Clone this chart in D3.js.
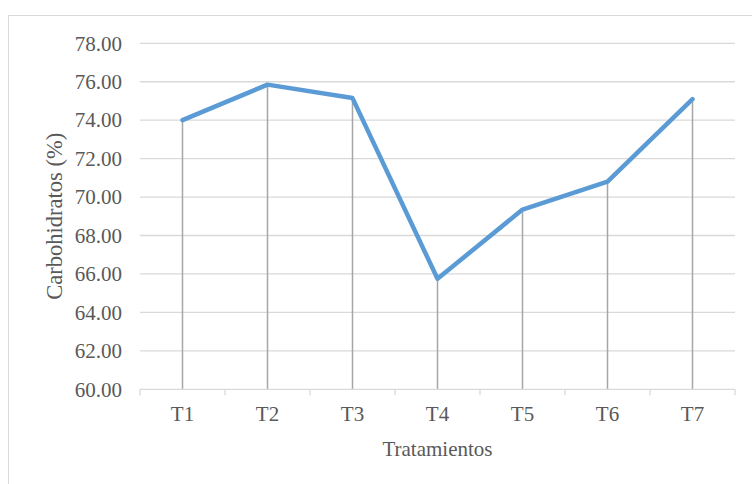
<!DOCTYPE html>
<html>
<head>
<meta charset="utf-8">
<script src="https://cdn.jsdelivr.net/npm/d3@7"></script>
<style>
  html, body { margin: 0; padding: 0; background: #ffffff; }
  svg { display: block; }
  svg text { font-family: "Liberation Serif", "Times New Roman", serif; fill: #595959; }
</style>
</head>
<body>
<svg id="chart" width="752" height="484"></svg>
<script>
// Carbohydrate content per treatment
const categories = ["T1", "T2", "T3", "T4", "T5", "T6", "T7"];
const carbValues = [74.00, 75.85, 75.15, 65.75, 69.35, 70.80, 75.10];
const yTicks = [60, 62, 64, 66, 68, 70, 72, 74, 76, 78];

const FONT = "'Liberation Serif', 'Times New Roman', serif";
const FS = "21px";

const svg = d3.select("#chart");
const W = 752, H = 484;

// outer chart frame
svg.append("rect")
  .attr("x", 8.5).attr("y", 15.5)
  .attr("width", W + 10).attr("height", H + 10)
  .attr("fill", "#ffffff")
  .attr("stroke", "#d9d9d9").attr("stroke-width", 1);

const plot = { left: 140, right: 735, top: 43.3, bottom: 389.3 };

const x = d3.scaleBand().domain(categories).range([plot.left, plot.right]).padding(0);
const y = d3.scaleLinear().domain([60, 78]).range([plot.bottom, plot.top]);

// horizontal gridlines
svg.append("g").selectAll("line")
  .data(yTicks.filter(v => v > 60))
  .join("line")
  .attr("x1", plot.left).attr("x2", plot.right)
  .attr("y1", d => y(d)).attr("y2", d => y(d))
  .attr("stroke", "#d9d9d9").attr("stroke-width", 1.3);

// y axis labels
const yAxis = d3.axisLeft(y).tickValues(yTicks).tickFormat(d3.format(".2f")).tickSize(0).tickPadding(18);
const gy = svg.append("g").attr("transform", `translate(${plot.left},0)`).call(yAxis);
gy.attr("font-family", FONT).attr("font-size", FS);
gy.select(".domain").remove();
gy.selectAll("text")
  .style("font-family", FONT)
  .style("font-size", FS).attr("fill", "#595959");

// drop lines from each point to the category axis
svg.append("g").selectAll("line")
  .data(carbValues)
  .join("line")
  .attr("x1", (d, i) => x(categories[i]) + x.bandwidth() / 2)
  .attr("x2", (d, i) => x(categories[i]) + x.bandwidth() / 2)
  .attr("y1", d => y(d)).attr("y2", plot.bottom)
  .attr("stroke", "#a6a6a6").attr("stroke-width", 1.5);

// x axis with tick marks between categories
const gx = svg.append("g").attr("transform", `translate(0,${plot.bottom})`);
gx.append("line")
  .attr("x1", plot.left).attr("x2", plot.right)
  .attr("y1", 0).attr("y2", 0)
  .attr("stroke", "#d9d9d9").attr("stroke-width", 1.3);
const boundaries = categories.map(c => x(c)).concat([plot.right]);
gx.selectAll("line.tick")
  .data(boundaries)
  .join("line").attr("class", "tick")
  .attr("x1", d => d).attr("x2", d => d)
  .attr("y1", 0).attr("y2", 6)
  .attr("stroke", "#d9d9d9").attr("stroke-width", 1.3);
gx.selectAll("text")
  .data(categories)
  .join("text")
  .attr("x", d => x(d) + x.bandwidth() / 2)
  .attr("y", 31.5)
  .attr("text-anchor", "middle")
  .style("font-family", FONT)
  .style("font-size", FS)
  .text(d => d);

// data line
const line = d3.line()
  .x((d, i) => x(categories[i]) + x.bandwidth() / 2)
  .y(d => y(d));
svg.append("path")
  .datum(carbValues)
  .attr("d", line)
  .attr("fill", "none")
  .attr("stroke", "#5b9bd5")
  .attr("stroke-width", 4.5)
  .attr("stroke-linejoin", "round")
  .attr("stroke-linecap", "round");

// axis titles
svg.append("text")
  .attr("x", (plot.left + plot.right) / 2)
  .attr("y", 456)
  .attr("text-anchor", "middle")
  .style("font-family", FONT)
  .style("font-size", FS)
  .text("Tratamientos");

svg.append("text")
  .attr("transform", `translate(62,${(plot.top + plot.bottom) / 2}) rotate(-90)`)
  .attr("text-anchor", "middle")
  .style("font-family", FONT)
  .style("font-size", "22.5px")
  .text("Carbohidratos (%)");
</script>
</body>
</html>
